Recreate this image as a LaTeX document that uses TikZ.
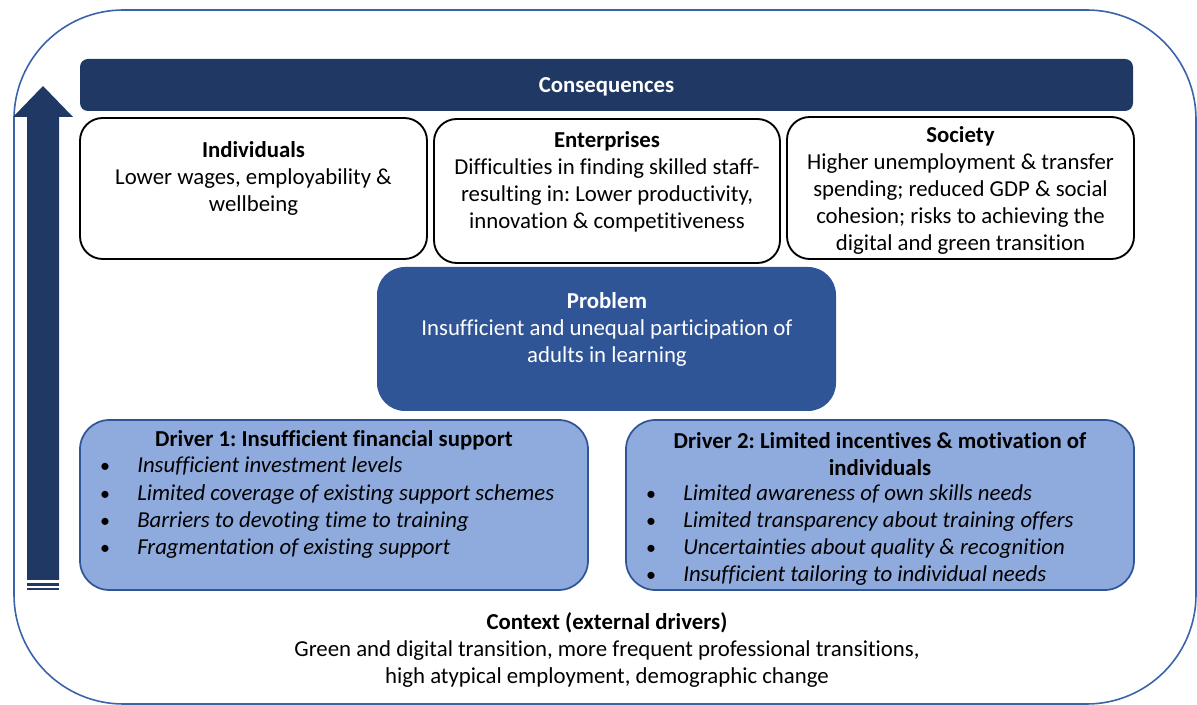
\documentclass[tikz,border=0pt]{standalone}
\usepackage{fontspec}
\setmainfont{Carlito}[Ligatures=NoCommon]
\usetikzlibrary{fit}
\frenchspacing
\definecolor{navy}{HTML}{203864}
\definecolor{probblue}{HTML}{2F5597}
\definecolor{drvfill}{HTML}{8FAADC}
\definecolor{frameblue}{HTML}{3A63AA}
\tikzset{
  txt/.style={font=\fontsize{17.1}{20.25}\selectfont, align=center, inner sep=0pt, yshift=-1.5pt},
  ttl/.style={txt, font=\fontsize{17.1}{20.25}\selectfont\bfseries},
  itm/.style={inner sep=0pt, anchor=west, font=\fontsize{17.1}{20.25}\selectfont\itshape, text height=12pt, text depth=4pt, yshift=-1.5pt},
  bul/.style={inner sep=0pt, font=\fontsize{15}{20.25}\selectfont, text height=12pt, text depth=4pt, yshift=-1.5pt},
  wbox/.style={draw=black, line width=1.4pt, fill=white, rounded corners=17pt, inner sep=0pt},
  dbox/.style={draw=probblue, line width=1.3pt, fill=drvfill, rounded corners=22pt, inner sep=0pt},
}
\begin{document}
\begin{tikzpicture}[x=0.75pt,y=-0.75pt]
\useasboundingbox (0,0) rectangle (1197,705);
% outer frame
\draw[frameblue, line width=1.2pt, rounded corners=82pt] (14,10) rectangle (1196,704);
% arrow
\fill[navy] (27,580) -- (27,117) -- (13,117) -- (43,86) -- (73,117) -- (59,117) -- (59,580) -- cycle;
\fill[navy] (27,583) rectangle (59,586);
\fill[navy] (27,588.5) rectangle (59,590.5);
% consequences
\node[fill=navy, rounded corners=6pt, inner sep=0pt, fit={(80,59) (1133,111)}] (cons) {};
\node[ttl, text=white] (consT) at (cons.center) {Consequences};
% three boxes
\node[wbox, fit={(80,118) (427,259)}] (ind) {};
\node[wbox, fit={(434,119) (780,263)}] (ent) {};
\node[wbox, fit={(787,117) (1134,259)}] (soc) {};
\node[txt] (indT) at (253.5,176) {\textbf{Individuals}\\Lower wages, employability \&\\wellbeing};
\node[txt] (entT) at (607,179.5) {\textbf{Enterprises}\\Difficulties in finding skilled staff-\\resulting in: Lower productivity,\\innovation \& competitiveness};
\node[txt] (socT) at (960.5,188) {\textbf{Society}\\Higher unemployment \& transfer\\spending; reduced GDP \& social\\cohesion; risks to achieving the\\digital and green transition};
% problem
\node[fill=probblue, rounded corners=21pt, inner sep=0pt, fit={(377,267) (836,411)}] (prob) {};
\node[txt, text=white] (probT) at (607,327) {\textbf{Problem}\\Insufficient and unequal participation of\\adults in learning};
% drivers
\node[dbox, fit={(80,420) (588,590)}] (d1) {};
\node[dbox, fit={(626,420) (1134,590)}] (d2) {};
\node[ttl] (d1T) at (334,438) {Driver 1: Insufficient financial support};
\node[ttl] (d2T) at (880,452) {Driver 2: Limited incentives \& motivation of\\individuals};
\foreach \yy/\itemtxt [count=\i] in {465/Insufficient investment levels,493/Limited coverage of existing support schemes,520/Barriers to devoting time to training,547/Fragmentation of existing support}{
  \node[bul] (d1b\i) at (105,\yy) {•};
  \node[itm] (d1i\i) at (137,\yy) {\itemtxt};
}
\foreach \yy/\itemtxt [count=\i] in {493/Limited awareness of own skills needs,520/Limited transparency about training offers,547/Uncertainties about quality \& recognition,574/Insufficient tailoring to individual needs}{
  \node[bul] (d2b\i) at (651,\yy) {•};
  \node[itm] (d2i\i) at (683,\yy) {\itemtxt};
}
% context
\node[txt] (ctx) at (607,648) {\textbf{Context (external drivers)}\\Green and digital transition, more frequent professional transitions,\\high atypical employment, demographic change};
\end{tikzpicture}
\end{document}
